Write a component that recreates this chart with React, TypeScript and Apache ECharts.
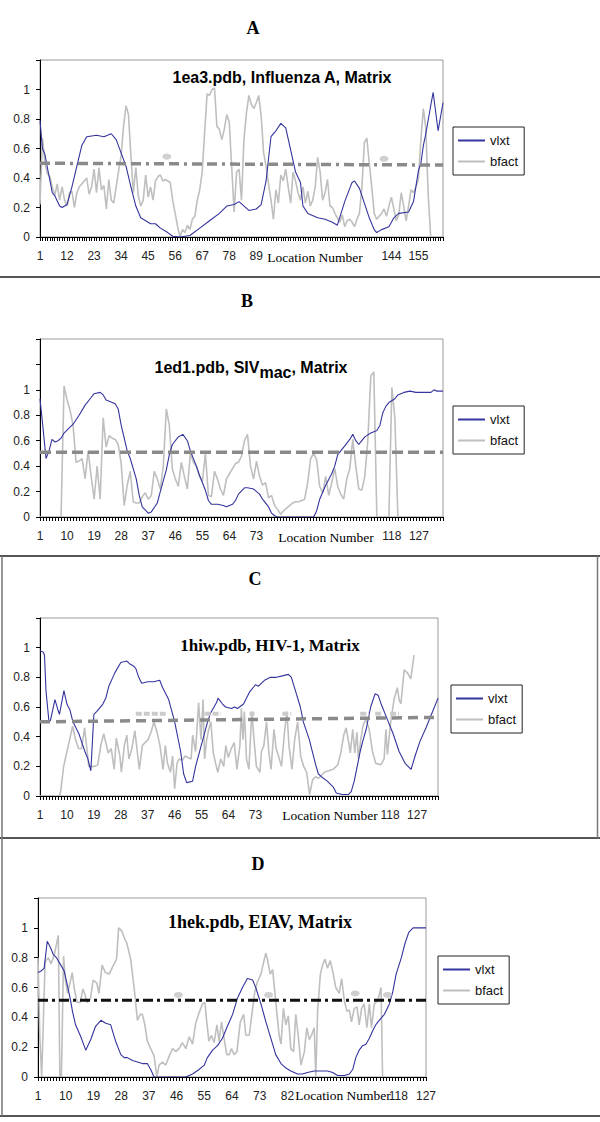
import React, { useEffect, useRef } from 'react';
import * as echarts from 'echarts';

const SANS = "'Liberation Sans', Arial, sans-serif";
const SERIF = "'Liberation Serif', 'Times New Roman', serif";

// ---------- Panel A : 1ea3.pdb, Influenza A, Matrix ----------
const nA = 165;
const xLabelsA = [1, 12, 23, 34, 45, 56, 67, 78, 89, 144, 155];
const vlxtA = [
  [1, 0.79], [2, 0.6], [3, 0.56], [4, 0.47], [6, 0.3], [7, 0.28], [9, 0.21], [10, 0.2], [12, 0.22], [14, 0.34],
  [16, 0.48], [18, 0.62], [20, 0.68], [24, 0.69], [27, 0.68], [30, 0.7], [32, 0.66], [34, 0.57], [36, 0.48],
  [38, 0.34], [40, 0.21], [42, 0.13], [44, 0.11], [46, 0.09], [48, 0.09], [50, 0.06], [53, 0.03], [55, 0.005],
  [58, 0], [62, 0.01], [66, 0.06], [70, 0.11], [74, 0.16], [77, 0.21], [80, 0.22], [82, 0.24], [86, 0.18],
  [89, 0.19], [91, 0.22], [93, 0.38], [95, 0.68], [97, 0.72], [99, 0.77], [101, 0.74], [103, 0.59], [105, 0.44],
  [107, 0.37], [108, 0.21], [110, 0.16], [114, 0.13], [117, 0.12], [120, 0.1], [122, 0.08], [125, 0.24],
  [128, 0.37], [129, 0.38], [131, 0.33], [133, 0.23], [135, 0.13], [137, 0.05], [138, 0.03], [140, 0.05],
  [143, 0.07], [145, 0.13], [147, 0.16], [151, 0.17], [153, 0.24], [155, 0.45], [156, 0.5], [157, 0.62],
  [158, 0.7], [160, 0.89], [161, 0.98], [163, 0.72], [165, 0.91],
];
const bfactA = [
  0.22, 0.67, 0.5, 0.43, 0.41, 0.34, 0.28, 0.36, 0.25, 0.34,
  0.25, 0.21, 0.3, 0.31, 0.2, 0.3, 0.34, 0.36, 0.38, 0.4,
  0.29, 0.34, 0.46, 0.3, 0.47, 0.32, 0.35, 0.19, 0.39, 0.25,
  0.23, 0.34, 0.45, 0.55, 0.75, 0.89, 0.83, 0.55, 0.3, 0.47,
  0.28, 0.21, 0.25, 0.42, 0.27, 0.34, 0.25, 0.38, 0.41, 0.42,
  0.38, 0.39, 0.38, 0.37, 0.25, 0.16, 0.07, 0, 0.05, 0.03,
  0.08, 0.05, 0.12, 0.14, 0.25, 0.32, 0.44, 0.71, 0.97, 0.96,
  1.0, 1.01, 0.75, 0.73, 0.66, 0.73, 0.83, 0.78, 0.48, 0.17,
  0.44, 0.46, 0.25, 0.66, 0.84, 0.96, 0.9, 0.87, 0.91, 0.96,
  0.82, 0.57, 0.48, 0.36, 0.25, 0.12, 0.32, 0.23, 0.42, 0.38,
  0.46, 0.34, 0.23, 0.44, 0.38, 0.3, 0.25, 0.34, 0.23, 0.31,
  0.21, 0.25, 0.34, 0.54, 0.44, 0.25, 0.3, 0.39, 0.21, 0.2,
  0.16, 0.13, 0.1, 0.15, 0.07, 0.11, 0.12, 0.1, 0.07, 0.12,
  0.16, 0.34, 0.64, 0.67, 0.5, 0.34, 0.16, 0.12, 0.14, 0.16,
  0.19, 0.14, 0.21, 0.27, 0.19, 0.11, 0.15, 0.3, 0.21, 0.11,
  0.21, 0.32, 0.3, 0.34, 0.39, 0.66, 0.87, 0.74, 0.28, 0,
  0, 0, 0, 0, 0,
];
const cutA = [[1, 0.5], [165, 0.488]];
const dotsA = [[52.6, 0.545], [141, 0.53]];

// ---------- Panel B : 1ed1.pdb, SIVmac, Matrix ----------
const nB = 135;
const xLabelsB = [1, 10, 19, 28, 37, 46, 55, 64, 73, 118, 127];
const vlxtB = [
  [1, 0.93], [2, 0.7], [3, 0.46], [4, 0.52], [5, 0.61], [6, 0.59], [7, 0.6], [8, 0.62], [9, 0.66], [12, 0.73],
  [14, 0.8], [16, 0.88], [18, 0.94], [19, 0.97], [21, 0.98], [22, 0.96], [23, 0.92], [24, 0.91], [26, 0.89],
  [27, 0.85], [28, 0.72], [30, 0.52], [31, 0.46], [33, 0.3], [34, 0.17], [35, 0.08], [37, 0.03], [38, 0.04],
  [40, 0.11], [41, 0.2], [43, 0.37], [44, 0.49], [45, 0.57], [47, 0.63], [48.5, 0.65], [50, 0.6], [51, 0.52],
  [53, 0.4], [54, 0.33], [56, 0.21], [57, 0.13], [58, 0.1], [60, 0.1], [62, 0.09], [63, 0.08], [65, 0.1],
  [66, 0.13], [67, 0.18], [69, 0.23], [70, 0.23], [72, 0.22], [73, 0.2], [74, 0.18], [75, 0.14], [77, 0.08],
  [78, 0.03], [79, 0.01], [80, 0], [92, 0], [93, 0.05], [94, 0.14], [96, 0.25], [98, 0.34], [99, 0.4],
  [100, 0.49], [102, 0.55], [104, 0.61], [105, 0.65], [106, 0.6], [107, 0.57], [108, 0.6], [109, 0.63],
  [111, 0.66], [113, 0.68], [114, 0.72], [115, 0.82], [116, 0.87], [117, 0.9], [119, 0.93], [120, 0.96],
  [122, 0.98], [124, 0.99], [126, 0.98], [129, 0.98], [131, 0.98], [132, 1.0], [133, 0.99], [135, 0.99],
];
const bfactB = [
  0, 0, 0, 0, 0, 0, 0, 0, 1.03, 0.92,
  0.84, 0.72, 0.43, 0.44, 0.46, 0.3, 0.52, 0.32, 0.14, 0.4,
  0.14, 0.78, 0.55, 0.64, 0.62, 0.61, 0.57, 0.42, 0.09, 0.25,
  0.36, 0.12, 0.11, 0.11, 0.16, 0.19, 0.14, 0.17, 0.36, 0.3,
  0.22, 0.4, 0.85, 0.72, 0.38, 0.3, 0.24, 0.43, 0.32, 0.22,
  0.5, 0.43, 0.4, 0.32, 0.28, 0.5, 0.17, 0.16, 0.36, 0.3,
  0.22, 0.17, 0.3, 0.34, 0.38, 0.42, 0.43, 0.48, 0.6, 0.65,
  0.4, 0.3, 0.44, 0.32, 0.25, 0.27, 0.15, 0.17, 0.09, 0.06,
  0.02, 0.05, 0.07, 0.09, 0.11, 0.12, 0.12, 0.13, 0.14, 0.27,
  0.46, 0.5, 0.45, 0.24, 0.19, 0.32, 0.17, 0.27, 0.38, 0.24,
  0.18, 0.14, 0.3, 0.38, 0.61, 0.4, 0.22, 0.21, 0.32, 0.6,
  1.11, 1.14, 0, 0, 0, 0, 0, 1.02, 0.78, 0,
  0, 0, 0, 0, 0, 0, 0, 0, 0, 0,
  0, 0, 0, 0, 0,
];
const cutB = [[1, 0.51], [135, 0.51]];

// ---------- Panel C : 1hiw.pdb, HIV-1, Matrix ----------
const nC = 134;
const xLabelsC = [1, 10, 19, 28, 37, 46, 55, 64, 73, 118, 127];
const vlxtC = [
  [1, 0.98], [2, 0.97], [2.5, 0.95], [3, 0.71], [4, 0.5], [4.5, 0.51], [6, 0.65], [7, 0.58], [7.5, 0.55],
  [9, 0.71], [10, 0.62], [11, 0.58], [12, 0.5], [14, 0.42], [15, 0.36], [16, 0.3], [17, 0.25], [18, 0.17],
  [19, 0.55], [20, 0.57], [22, 0.62], [23, 0.66], [24, 0.74], [26, 0.83], [28, 0.9], [30, 0.91], [31, 0.89],
  [32, 0.88], [33, 0.86], [34, 0.8], [35, 0.76], [37, 0.77], [39, 0.77], [41, 0.78], [42, 0.73], [44, 0.65],
  [46, 0.5], [48, 0.3], [49, 0.15], [50, 0.09], [52, 0.1], [53, 0.2], [55, 0.35], [57, 0.5], [58, 0.56],
  [60, 0.63], [60.5, 0.66], [62, 0.62], [63, 0.6], [65, 0.59], [66, 0.6], [67, 0.59], [69, 0.62], [71, 0.7],
  [73, 0.75], [74, 0.74], [76, 0.78], [78, 0.8], [80, 0.8], [82, 0.81], [84, 0.82], [85, 0.8], [86.5, 0.7],
  [88, 0.6], [89, 0.5], [91, 0.38], [93, 0.22], [94, 0.15], [95, 0.13], [97, 0.1], [99, 0.06], [100, 0.02],
  [102, 0.01], [104, 0.01], [105, 0.03], [106, 0.1], [107, 0.2], [108, 0.3], [109, 0.38], [110, 0.45],
  [111.5, 0.6], [113, 0.69], [114, 0.68], [115, 0.62], [117, 0.52], [119, 0.42], [121, 0.3], [123, 0.22],
  [125, 0.18], [126.5, 0.28], [128, 0.37], [130, 0.46], [132, 0.56], [134, 0.66],
];
const bfactC = [
  [1, 0], [7.5, 0], [7.9, 0.03], [8.9, 0.2], [9.9, 0.29], [10.9, 0.38], [11.9, 0.47], [12.9, 0.38], [13.9, 0.32],
  [14.9, 0.32], [15.9, 0.46], [17.3, 0.2], [19.3, 0.2], [20.3, 0.21], [21.3, 0.34], [22.3, 0.42], [23.8, 0.29],
  [24.8, 0.32], [25.8, 0.18], [26.5, 0.39], [27.7, 0.27], [28.2, 0.16], [29.2, 0.34], [30, 0.41], [30.7, 0.25],
  [31.7, 0.32], [32.7, 0.44], [34.2, 0.18], [35.2, 0.34], [36.1, 0.36], [37.1, 0.38], [38.1, 0.43], [39.1, 0.5],
  [40.1, 0.43], [41.1, 0.34], [42.1, 0.18], [42.9, 0.34], [43.6, 0.22], [44.6, 0.16], [45.3, 0.27], [46, 0.05],
  [46.8, 0.22], [47.5, 0.25], [48.5, 0.24], [49.5, 0.27], [50.5, 0.26], [51.5, 0.25], [52, 0.41], [53, 0.3],
  [54, 0.63], [54.8, 0.38], [55.5, 0.65], [56, 0.25], [56.7, 0.38], [57.4, 0.45], [58.1, 0.5], [58.9, 0.29],
  [59.7, 0.22], [60.4, 0.16], [61.4, 0.25], [62.4, 0.2], [63.1, 0.34], [63.9, 0.26], [64.9, 0.32], [65.9, 0.36],
  [66.8, 0.18], [67.8, 0.34], [68.3, 0.59], [68.8, 0.38], [69.3, 0.57], [70, 0.25], [70.8, 0.18], [71.8, 0.57],
  [72.6, 0.36], [73.3, 0.2], [74.5, 0.16], [75, 0.3], [75.8, 0.34], [76.7, 0.5], [77.5, 0.29], [78.2, 0.18],
  [79.2, 0.45], [79.9, 0.32], [80.7, 0.27], [81.7, 0.2], [82.7, 0.43], [83.5, 0.57], [84.2, 0.34], [85.2, 0.18],
  [86.1, 0.38], [87.1, 0.5], [88.1, 0.27], [89.1, 0.2], [90.1, 0.16], [91.1, 0.01], [92.1, 0.11], [93.1, 0.13],
  [94.1, 0.12], [95.1, 0.14], [96, 0.16], [97.5, 0.17], [99, 0.18], [100.5, 0.21], [101.5, 0.29], [102.5, 0.41],
  [103.3, 0.46], [104, 0.38], [104.7, 0.29], [105.5, 0.45], [106.2, 0.29], [106.9, 0.43], [107.4, 0.25],
  [108.2, 0.38], [108.9, 0.47], [109.9, 0.52], [111, 0.45], [112.1, 0.3], [113.2, 0.22], [114.9, 0.21],
  [116, 0.25], [116.6, 0.45], [117.1, 0.28], [118.2, 0.5], [119.3, 0.65], [120.4, 0.73], [121, 0.65],
  [121.6, 0.62], [122.7, 0.85], [123.8, 0.83], [124.9, 0.79], [126, 0.95],
];
const cutC = [[1, 0.5], [134, 0.53]];
const blobRangesC = [[33, 43], [56, 61.5], [71, 72.7], [82, 85], [108, 111], [113, 115], [118, 121]];
const blobLevelC = 0.555;

// ---------- Panel D : 1hek.pdb, EIAV, Matrix ----------
const nD = 127;
const xLabelsD = [1, 10, 19, 28, 37, 46, 55, 64, 73, 82, 118, 127];
const vlxtD = [
  [1, 0.7], [2, 0.71], [3, 0.73], [4, 0.91], [5, 0.87], [6, 0.82], [7, 0.8], [8.4, 0.75], [9.5, 0.71],
  [10.5, 0.62], [11.6, 0.51], [12.2, 0.44], [13.2, 0.35], [14.9, 0.27], [16.5, 0.18], [18.1, 0.25],
  [19.7, 0.34], [21.4, 0.38], [23, 0.36], [24.6, 0.35], [26.2, 0.24], [27.9, 0.15], [29, 0.13], [30, 0.13],
  [31.7, 0.11], [33.3, 0.1], [34.9, 0.09], [36.5, 0.09], [37.6, 0.05], [38.7, 0], [49, 0], [51.2, 0.02],
  [53.3, 0.05], [55, 0.08], [56, 0.13], [57.7, 0.18], [59.3, 0.21], [60.9, 0.26], [62.5, 0.34], [64.2, 0.42],
  [65.8, 0.53], [67.4, 0.6], [69, 0.66], [70.7, 0.65], [71.7, 0.6], [73.4, 0.49], [75, 0.37], [76.6, 0.26],
  [78.2, 0.15], [79.9, 0.09], [81.5, 0.06], [83.1, 0.04], [85.3, 0.02], [86.9, 0.02], [88.5, 0.03],
  [90.7, 0.04], [92.9, 0.04], [95, 0.04], [96.7, 0.03], [98.3, 0.01], [100.5, 0.01], [102.1, 0.02],
  [103.2, 0.05], [104.2, 0.13], [105.3, 0.18], [106.4, 0.21], [107.5, 0.22], [108.6, 0.26], [109.7, 0.31],
  [110.7, 0.35], [111.8, 0.38], [113.5, 0.42], [115.1, 0.49], [116.2, 0.57], [117.3, 0.69], [119, 0.8],
  [120.1, 0.89], [121.4, 0.97], [122.8, 1.0], [124.4, 1.0], [127, 1.0],
];
const bfactD = [
  [1, 0.8], [1.6, 0.27], [2.2, 0], [3.3, 0.77], [4.3, 0.8], [5.2, 0.76], [6.2, 0.81], [7.1, 0.9], [7.6, 0.95],
  [8.1, 0], [8.6, 0], [9.3, 0.81], [9.9, 0.65], [10.6, 0.56], [11.4, 0.63], [12.1, 0.7], [12.8, 0.59],
  [13.7, 0.5], [14.7, 0.5], [15.6, 0.59], [16.3, 0.55], [17, 0.5], [18, 0.52], [18.9, 0.65], [20.1, 0.63],
  [20.8, 0.56], [21.8, 0.75], [22.9, 0.7], [24.1, 0.69], [25.5, 0.75], [26.5, 0.79], [27.2, 1.0], [28.2, 0.98],
  [29.1, 0.93], [29.8, 0.9], [31.1, 0.79], [32.2, 0.6], [33.3, 0.38], [34.2, 0.42], [34.9, 0.42], [35.7, 0.35],
  [36.5, 0.24], [37.6, 0.19], [38.7, 0.14], [39.6, 0], [40.3, 0.08], [41.4, 0.1], [42.5, 0.08], [43.6, 0.14],
  [44.7, 0.19], [45.8, 0.17], [46.8, 0.19], [47.9, 0.23], [49, 0.19], [50.1, 0.27], [51.2, 0.22], [52.2, 0.36],
  [53.3, 0.43], [54.4, 0.49], [55.2, 0.5], [55.8, 0.37], [56.5, 0.24], [57.3, 0.28], [58.2, 0.23], [59.1, 0.35],
  [59.8, 0.24], [60.6, 0.37], [61.5, 0.25], [62.3, 0.15], [63.1, 0.15], [63.8, 0.19], [64.7, 0.15], [65.6, 0.17],
  [66.7, 0.37], [67.8, 0.42], [68.5, 0.28], [69.6, 0.28], [70.7, 0.46], [71.4, 0.57], [72.3, 0.64], [73.4, 0.69],
  [74.5, 0.79], [75, 0.83], [75.5, 0.79], [76.4, 0.69], [77.2, 0.72], [77.9, 0.57], [79.3, 0.28], [79.9, 0.22],
  [80.7, 0.46], [81.5, 0.35], [82.3, 0.41], [83.1, 0.19], [84, 0.17], [84.7, 0.42], [85.5, 0.28], [86.4, 0.08],
  [87.5, 0.17], [88.3, 0.33], [89.1, 0.25], [89.8, 0.28], [90.7, 0.33], [91.2, 0], [91.8, 0.44], [92.7, 0.69],
  [93.4, 0.75], [94.2, 0.79], [95, 0.73], [95.9, 0.78], [96.7, 0.71], [97.7, 0.6], [98.8, 0.56], [99.6, 0.66],
  [100.5, 0.51], [101.3, 0.44], [102.1, 0.45], [102.8, 0.37], [103.7, 0.46], [104.6, 0.47], [105.3, 0.35],
  [106.1, 0.46], [106.9, 0.49], [107.8, 0.33], [108.6, 0.49], [109.3, 0.33], [110.2, 0.49], [111.3, 0.51],
  [112.4, 0.6], [112.9, 0],
];
const cutD = [[1, 0.515], [127, 0.515]];
const dotsD = [[46.6, 0.55], [75.9, 0.55], [104, 0.56], [114.5, 0.55]];

const BLUE = '#34349e';
const GRAY = '#bfbfbf';

const toPairs = (arr: number[]) => arr.map((v, i) => [i + 1, v]);

const panels = [
  {
    n: nA, ymax: 1.2, xLabels: xLabelsA, vlxt: vlxtA, bfact: toPairs(bfactA), cut: cutA, dots: dotsA,
    cutColor: '#8a8a8a', cutDash: [10, 5, 10, 5, 3, 5], cutWidth: 3.5,
    grid: { left: 40, top: 60, width: 403, height: 177 }, legend: { left: 453, top: 127 },
  },
  {
    n: nB, ymax: 1.4, xLabels: xLabelsB, vlxt: vlxtB, bfact: toPairs(bfactB), cut: cutB, dots: [],
    cutColor: '#8a8a8a', cutDash: [11, 5], cutWidth: 3.5,
    grid: { left: 40, top: 339, width: 403, height: 178 }, legend: { left: 453, top: 406 },
  },
  {
    n: nC, ymax: 1.2, xLabels: xLabelsC, vlxt: vlxtC, bfact: bfactC, cut: cutC, dots: [],
    cutColor: '#8a8a8a', cutDash: [10, 6], cutWidth: 3.5,
    grid: { left: 40, top: 618, width: 398, height: 178 }, legend: { left: 451, top: 685 },
  },
  {
    n: nD, ymax: 1.2, xLabels: xLabelsD, vlxt: vlxtD, bfact: bfactD, cut: cutD, dots: dotsD,
    cutColor: '#111111', cutDash: [10, 4, 3, 4], cutWidth: 3,
    grid: { left: 38, top: 898, width: 388, height: 179 }, legend: { left: 438, top: 956 },
  },
];

function buildOption() {
  const grid = panels.map((p) => ({
    left: p.grid.left, top: p.grid.top, width: p.grid.width, height: p.grid.height,
    show: true, borderColor: '#9a9a9a', borderWidth: 1, backgroundColor: '#ffffff',
  }));
  const xAxis = panels.map((p, i) => ({
    type: 'value', gridIndex: i, min: 1, max: p.n, interval: 1, z: 6,
    axisLine: { show: true, onZero: false, lineStyle: { color: '#000', width: 1 } },
    axisTick: { show: true, length: 4, lineStyle: { color: '#000', width: 1 } },
    splitLine: { show: false },
    axisLabel: {
      margin: 13, fontFamily: SANS, fontSize: 12, color: '#222',
      formatter: (v: number) => {
        const r = Math.round(v);
        return Math.abs(v - r) < 1e-6 && p.xLabels.includes(r) ? String(r) : '';
      },
    },
  }));
  const yAxis = panels.map((p, i) => ({
    type: 'value', gridIndex: i, min: 0, max: p.ymax, interval: 0.2,
    axisLine: { show: true, lineStyle: { color: '#000', width: 1 } },
    axisTick: { show: true, length: 4, lineStyle: { color: '#000', width: 1 } },
    splitLine: { show: false },
    axisLabel: {
      margin: 10, fontFamily: SANS, fontSize: 12, color: '#222',
      formatter: (v: number) => (v > 1.001 ? '' : String(Math.round(v * 10) / 10)),
    },
  }));
  const series: any[] = [];
  panels.forEach((p, i) => {
    series.push({
      type: 'line', name: 'bfact', xAxisIndex: i, yAxisIndex: i, data: p.bfact, symbol: 'none',
      lineStyle: { color: GRAY, width: 1.6 }, itemStyle: { color: GRAY }, z: 2,
    });
    series.push({
      type: 'line', name: 'vlxt', xAxisIndex: i, yAxisIndex: i, data: p.vlxt, symbol: 'none',
      lineStyle: { color: BLUE, width: 1.1 }, itemStyle: { color: BLUE }, z: 3,
    });
    series.push({
      type: 'line', name: 'cut' + i, xAxisIndex: i, yAxisIndex: i, data: p.cut, symbol: 'none', silent: true,
      lineStyle: { color: p.cutColor, width: p.cutWidth, type: p.cutDash, cap: 'butt' }, z: 4,
    });
    if (p.dots.length) {
      series.push({
        type: 'scatter', name: 'dots' + i, xAxisIndex: i, yAxisIndex: i, data: p.dots, symbol: 'circle',
        symbolSize: [9, 6], itemStyle: { color: '#c4c4c4' }, silent: true, z: 5,
      });
    }
  });
  blobRangesC.forEach((r, k) => {
    series.push({
      type: 'line', name: 'blob' + k, xAxisIndex: 2, yAxisIndex: 2,
      data: [[r[0], blobLevelC], [r[1], blobLevelC]], symbol: 'none', silent: true,
      lineStyle: { color: '#cbcbcb', width: 4, type: [6, 2] }, z: 3,
    });
  });
  const legend = panels.map((p) => ({
    data: ['vlxt', 'bfact'], orient: 'vertical', left: p.legend.left, top: p.legend.top,
    icon: 'rect', padding: [6, 6, 6, 5], itemWidth: 27, itemHeight: 2, itemGap: 6,
    borderColor: '#222', borderWidth: 1, backgroundColor: '#fff', selectedMode: false,
    textStyle: { fontFamily: SANS, fontSize: 13, color: '#111', lineHeight: 15 },
  }));

  const txt = (x: number, y: number, text: string, size: number, family: string, weight = 'bold') => ({
    type: 'text', x, y, silent: true,
    style: { text, fontSize: size, fontFamily: family, fontWeight: weight, fill: '#000', align: 'center', verticalAlign: 'middle' },
  });
  const hline = (y: number) => ({
    type: 'line', silent: true, shape: { x1: 0, y1: y, x2: 600, y2: y }, style: { stroke: '#555', lineWidth: 2 },
  });
  const vline = (x: number, y1: number, y2: number) => ({
    type: 'line', silent: true, shape: { x1: x, y1, x2: x, y2 }, style: { stroke: '#777', lineWidth: 1.5 },
  });

  const graphic = [
    hline(277), hline(556), hline(838), hline(1116),
    vline(2, 556, 1116), vline(597.5, 556, 838),
    txt(253, 28, 'A', 18, SERIF), txt(247, 301, 'B', 18, SERIF), txt(255, 579, 'C', 18, SERIF), txt(258, 864, 'D', 18, SERIF),
    txt(282, 77, '1ea3.pdb, Influenza A, Matrix', 16, SANS),
    {
      type: 'text', x: 251, y: 372, silent: true,
      style: {
        text: '{a|1ed1.pdb, SIV}{s|mac}{a|, Matrix}', align: 'center', verticalAlign: 'middle',
        rich: {
          a: { fontSize: 16, fontFamily: SANS, fontWeight: 'bold', fill: '#000', lineHeight: 16, verticalAlign: 'top' },
          s: { fontSize: 16, fontFamily: SANS, fontWeight: 'bold', fill: '#000', lineHeight: 26 },
        },
      },
    },
    txt(270, 645, '1hiw.pdb, HIV-1, Matrix', 17, SERIF),
    txt(260, 922, '1hek.pdb, EIAV, Matrix', 18, SERIF),
    txt(315, 257, 'Location Number', 13.5, SERIF, 'normal'),
    txt(326, 537, 'Location Number', 13.5, SERIF, 'normal'),
    txt(330, 815, 'Location Number', 13.5, SERIF, 'normal'),
    txt(343, 1095, 'Location Number', 13.5, SERIF, 'normal'),
  ];

  return { animation: false, backgroundColor: '#ffffff', grid, xAxis, yAxis, series, legend, graphic };
}

export default function App() {
  const ref = useRef<HTMLDivElement>(null);
  useEffect(() => {
    document.body.style.margin = '0';
    const chart = echarts.init(ref.current as HTMLDivElement, null, { renderer: 'svg' });
    chart.setOption(buildOption() as any);
    return () => chart.dispose();
  }, []);
  return <div ref={ref} style={{ width: 600, height: 1122 }} />;
}
